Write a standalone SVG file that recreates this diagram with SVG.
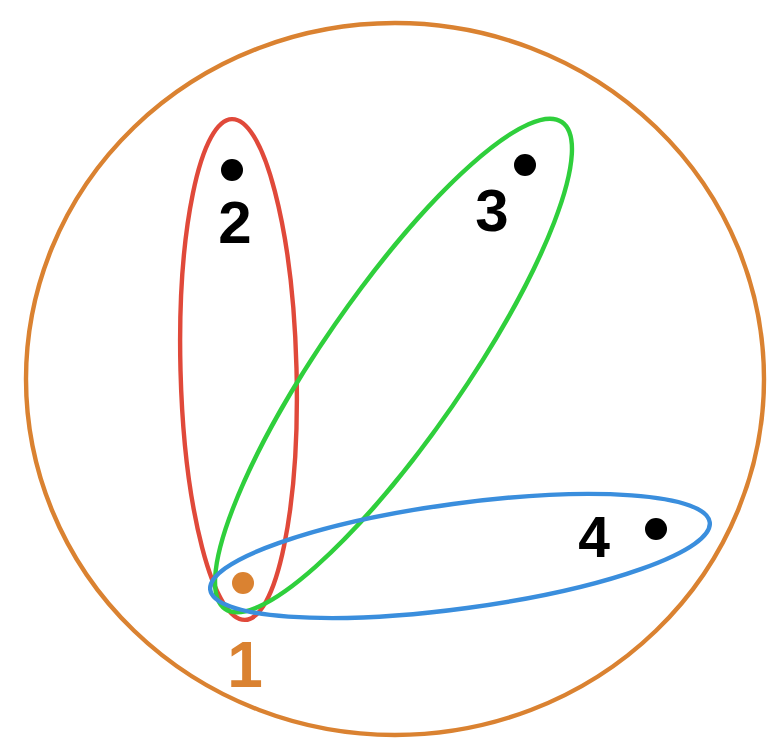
<svg xmlns="http://www.w3.org/2000/svg" width="773" height="749" viewBox="0 0 773 749">
<style>
.set{fill:none;stroke-width:4.4}
.dot{fill:#000}
.lbl{font-family:"Liberation Sans",Arial,sans-serif;font-weight:bold;text-anchor:middle;fill:#000}
</style>
<rect width="773" height="749" fill="#fff"/>
<g id="connectors">
<ellipse id="set-all" class="set" cx="395" cy="379" rx="369" ry="356" stroke="#DA8231"/>
<ellipse id="set-12" class="set" cx="238.5" cy="369.5" rx="58" ry="250.5" stroke="#E0493A" transform="rotate(-1.5 238.5 369.5)"/>
<ellipse id="set-13" class="set" cx="393.5" cy="365.5" rx="296" ry="71.5" stroke="#2FCF3C" transform="rotate(-55.3 393.5 365.5)"/>
<ellipse id="set-14" class="set" cx="460" cy="556" rx="252" ry="52.5" stroke="#3A8EDD" transform="rotate(-7.7 460 556)"/>
</g>
<g id="node1">
<circle cx="243" cy="583" r="11" fill="#DA8231"/>
<text class="lbl" x="245" y="687" font-size="64" style="fill:#DA8231">1</text>
</g>
<g id="node2">
<circle class="dot" cx="232" cy="170" r="11"/>
<text class="lbl" x="235" y="243" font-size="60">2</text>
</g>
<g id="node3">
<circle class="dot" cx="525" cy="165" r="11"/>
<text class="lbl" x="492" y="231" font-size="60">3</text>
</g>
<g id="node4">
<circle class="dot" cx="656" cy="529" r="11"/>
<text class="lbl" x="594" y="557" font-size="57">4</text>
</g>
</svg>
